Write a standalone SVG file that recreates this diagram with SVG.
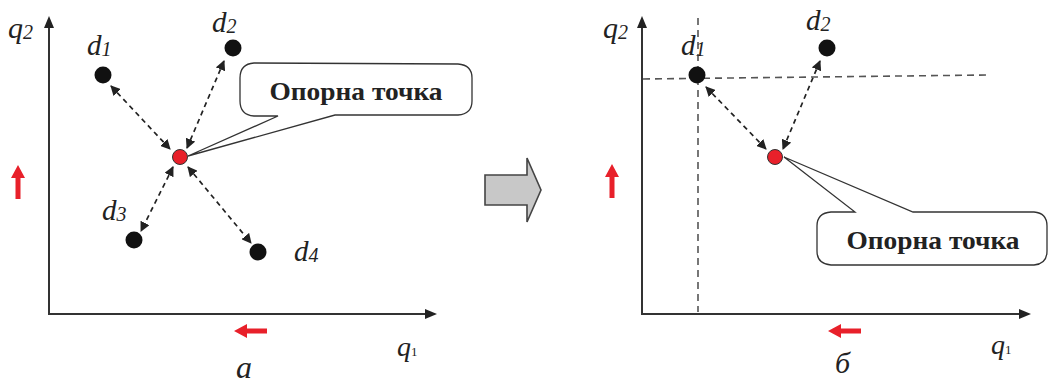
<svg xmlns="http://www.w3.org/2000/svg" width="1049" height="383" viewBox="0 0 1049 383">
<style>
.axis{stroke:#333;stroke-width:2;fill:none}
.ah{fill:#222}
.dash{stroke:#222;stroke-width:1.7;stroke-dasharray:5 4;fill:none}
.guide{stroke:#555;stroke-width:1.6;stroke-dasharray:7 5;fill:none}
.dot{fill:#111}
.ref{fill:#e8202a;stroke:#333;stroke-width:1}
.red{fill:#e8202a}
.lbl{font-family:"Liberation Serif",serif;font-style:italic;fill:#222}
.call{fill:#fff;stroke:#333;stroke-width:1.3}
.ct{font-family:"Liberation Serif",serif;font-weight:bold;font-size:26px;fill:#222}
</style>
<defs>
<marker id="mh" viewBox="0 0 10 10" refX="9" refY="5" markerWidth="10" markerHeight="10" markerUnits="userSpaceOnUse" orient="auto-start-reverse">
<path d="M0,0 L10,5 L0,10 z" fill="#222"/>
</marker>
</defs>

<g id="axes-a">
<line class="axis" x1="49" y1="314" x2="49" y2="25"/>
<polygon class="ah" points="49,16 44,28 54,28"/>
<line class="axis" x1="48" y1="314" x2="428" y2="314"/>
<polygon class="ah" points="437,314 425,309 425,319"/>
<text class="lbl" x="8" y="38" font-size="30">q<tspan font-size="20" dy="1">2</tspan></text>
<text class="lbl" x="397" y="356" font-size="28">q<tspan font-size="13" font-style="normal">1</tspan></text>
<text class="lbl" x="236" y="378" font-size="32">a</text>
<polygon class="red" points="18,165 11,178 15.5,178 15.5,199 20.5,199 20.5,178 25,178"/>
<polygon class="red" points="234,331 247,324 247,328.5 267,328.5 267,333.5 247,333.5 247,338"/>
</g>

<g id="connectors">
<line class="dash" x1="111" y1="86" x2="170" y2="149" marker-start="url(#mh)" marker-end="url(#mh)"/>
<line class="dash" x1="224" y1="61" x2="187" y2="148" marker-start="url(#mh)" marker-end="url(#mh)"/>
<line class="dash" x1="173" y1="167" x2="141" y2="231" marker-start="url(#mh)" marker-end="url(#mh)"/>
<line class="dash" x1="188" y1="167" x2="251" y2="243" marker-start="url(#mh)" marker-end="url(#mh)"/>
<line class="dash" x1="706" y1="87" x2="766" y2="149" marker-start="url(#mh)" marker-end="url(#mh)"/>
<line class="dash" x1="820" y1="61" x2="783" y2="149" marker-start="url(#mh)" marker-end="url(#mh)"/>
</g>

<g id="d1-a"><circle class="dot" cx="103" cy="75" r="8.5"/><text class="lbl" x="87" y="55" font-size="29">d<tspan font-size="20" dy="1">1</tspan></text></g>
<g id="d2-a"><circle class="dot" cx="233" cy="48" r="8.5"/><text class="lbl" x="212" y="32" font-size="29">d<tspan font-size="20" dy="1">2</tspan></text></g>
<g id="d3-a"><circle class="dot" cx="134" cy="240" r="8.5"/><text class="lbl" x="102" y="220" font-size="29">d<tspan font-size="20" dy="1">3</tspan></text></g>
<g id="d4-a"><circle class="dot" cx="258" cy="252" r="8.5"/><text class="lbl" x="294" y="261" font-size="29">d<tspan font-size="20" dy="1">4</tspan></text></g>
<g id="ref-a"><circle class="ref" cx="180" cy="157" r="7.5"/></g>

<g id="callout-a">
<path class="call" d="M254,63 L458,64 Q472,65 472,78 L472,101 Q472,114 458,115 L335,115 L188,156 L278,116 L254,116 Q240,115 240,101 L240,78 Q240,64 254,63 Z"/>
<text class="ct" x="356" y="100" text-anchor="middle" textLength="173" lengthAdjust="spacingAndGlyphs">Опорна точка</text>
</g>

<g id="transition-arrow">
<path d="M485,175 L527,175 L527,158 L541,190 L527,222 L527,205 L485,205 Z" fill="#c8c8c8" stroke="#444" stroke-width="1.6"/>
</g>

<g id="axes-b">
<line class="guide" x1="698" y1="18" x2="698" y2="312"/>
<line class="guide" x1="643" y1="79" x2="987" y2="75"/>
<line class="axis" x1="642" y1="314" x2="642" y2="25"/>
<polygon class="ah" points="642,16 637,28 647,28"/>
<line class="axis" x1="641" y1="314" x2="1022" y2="314"/>
<polygon class="ah" points="1031,314 1019,309 1019,319"/>
<text class="lbl" x="603" y="38" font-size="30">q<tspan font-size="20" dy="1">2</tspan></text>
<text class="lbl" x="991" y="354" font-size="28">q<tspan font-size="13" font-style="normal">1</tspan></text>
<text class="lbl" x="835" y="373" font-size="30">б</text>
<polygon class="red" points="612,164 605,177 609.5,177 609.5,198 614.5,198 614.5,177 619,177"/>
<polygon class="red" points="828,331 841,324 841,328.5 861,328.5 861,333.5 841,333.5 841,338"/>
</g>

<g id="d1-b"><circle class="dot" cx="697" cy="75" r="8.5"/><text class="lbl" x="681" y="55" font-size="29">d<tspan font-size="20" dy="1">1</tspan></text></g>
<g id="d2-b"><circle class="dot" cx="827" cy="48" r="8.5"/><text class="lbl" x="806" y="30" font-size="29">d<tspan font-size="20" dy="1">2</tspan></text></g>
<g id="ref-b"><circle class="ref" cx="775" cy="157" r="7.5"/></g>

<g id="callout-b">
<path class="call" d="M831,212 L855,212 L784,157 L913,212 L1034,212 Q1047,213 1047,226 L1047,251 Q1047,264 1034,265 L831,265 Q817,264 817,251 L817,226 Q817,213 831,212 Z"/>
<text class="ct" x="933" y="249" text-anchor="middle" textLength="173" lengthAdjust="spacingAndGlyphs">Опорна точка</text>
</g>
</svg>
